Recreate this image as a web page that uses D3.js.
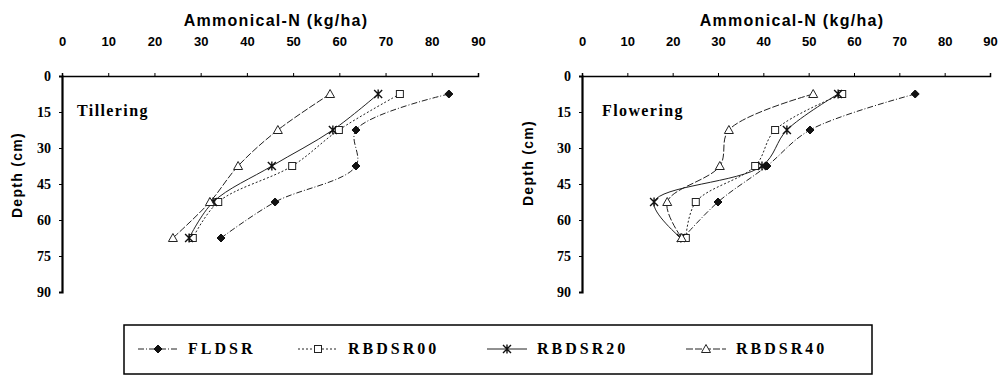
<!DOCTYPE html>
<html>
<head>
<meta charset="utf-8">
<script src="https://cdn.jsdelivr.net/npm/d3@7"></script>
<style>
    body { margin: 0; background: #fff; }
    svg { display: block; }
</style>
</head>
<body>
<svg id="chart" width="1000" height="375"></svg>
<script>
"use strict";

// depth of each sampling layer (cm)
var depths = [7.5, 22.5, 37.5, 52.5, 67.5];
var xTicks = [0, 10, 20, 30, 40, 50, 60, 70, 80, 90];
var yTicks = [0, 15, 30, 45, 60, 75, 90];
var seriesNames = ["FLDSR", "RBDSR00", "RBDSR20", "RBDSR40"];
var stages = ["Tillering", "Flowering"];

// Ammonical-N (kg/ha) per depth, tillering stage
var tillFLDSR = [83.7, 63.6, 63.6, 46.1, 34.4];
var tillRBDSR00 = [73.1, 59.9, 49.8, 33.8, 28.3];
var tillRBDSR20 = [68.4, 58.6, 45.4, 32.7, 27.5];
var tillRBDSR40 = [58.0, 46.7, 38.1, 32.0, 24.0];

// Ammonical-N (kg/ha) per depth, flowering stage
var flowFLDSR = [73.5, 50.3, 40.8, 30.0, 22.3];
var flowRBDSR00 = [57.4, 42.6, 38.2, 25.1, 22.9];
var flowRBDSR20 = [56.5, 45.2, 39.7, 15.9, 21.8];
var flowRBDSR40 = [51.0, 32.4, 30.4, 18.8, 22.0];

var stageData = [
    [tillFLDSR, tillRBDSR00, tillRBDSR20, tillRBDSR40],
    [flowFLDSR, flowRBDSR00, flowRBDSR20, flowRBDSR40]
];

// line style + marker for each series
var dashes = ["6,2,1,2", "2,2", null, "7,2"];
var markers = ["diamond", "square", "asterisk", "triangle"];

var svg = d3.select("#chart");
var sans = "'Liberation Sans', Arial, sans-serif";
var serif = "'Liberation Serif', 'Times New Roman', serif";

var panels = [
    { x0: 62, x1: 478, labelX: 17 },
    { x0: 582, x1: 990, labelX: 528 }
];

function draw_marker(g, type, cx, cy) {
    if (type == "diamond") {
        g.append("path")
            .attr("d", `M${cx},${cy - 4}L${cx + 4},${cy}L${cx},${cy + 4}L${cx - 4},${cy}Z`)
            .attr("fill", "#111").attr("stroke", "#111");
    } else if (type == "square") {
        g.append("rect")
            .attr("x", cx - 3.5).attr("y", cy - 3.5)
            .attr("width", 7).attr("height", 7)
            .attr("fill", "#fff").attr("stroke", "#222").attr("stroke-width", 1);
    } else if (type == "triangle") {
        g.append("path")
            .attr("d", `M${cx},${cy - 4.5}L${cx + 4.5},${cy + 3.5}L${cx - 4.5},${cy + 3.5}Z`)
            .attr("fill", "#fff").attr("stroke", "#222").attr("stroke-width", 1);
    } else {
        g.append("path")
            .attr("d", `M${cx - 4},${cy - 4}L${cx + 4},${cy + 4}M${cx + 4},${cy - 4}L${cx - 4},${cy + 4}M${cx},${cy - 4.5}L${cx},${cy + 4.5}`)
            .attr("fill", "none").attr("stroke", "#111").attr("stroke-width", 1.4);
    }
}

panels.forEach(function (p, k) {
    var x = d3.scaleLinear().domain([0, 90]).range([p.x0, p.x1]);
    var y = d3.scaleLinear().domain([0, 90]).range([76, 292]);
    var g = svg.append("g");

    // top axis
    var xAxis = g.append("g")
        .attr("transform", "translate(0,76)")
        .call(d3.axisTop(x).tickValues(xTicks).tickSize(3).tickPadding(27));
    xAxis.select(".domain").attr("stroke", "#000").attr("stroke-width", 1.5);
    xAxis.selectAll("text")
        .attr("font-family", sans).attr("font-weight", "bold")
        .attr("font-size", 13).attr("fill", "#000");

    // left axis
    var yAxis = g.append("g")
        .attr("transform", `translate(${p.x0},0)`)
        .call(d3.axisLeft(y).tickValues(yTicks).tickSize(3).tickPadding(8));
    yAxis.select(".domain").attr("stroke", "#000").attr("stroke-width", 2.2);
    yAxis.selectAll("text")
        .attr("font-family", serif).attr("font-weight", "bold")
        .attr("font-size", 14).attr("fill", "#000");

    // axis titles
    g.append("text")
        .attr("x", (p.x0 + p.x1) / 2 + 6).attr("y", 26)
        .attr("text-anchor", "middle")
        .attr("font-family", sans).attr("font-weight", "bold")
        .attr("font-size", 16).attr("letter-spacing", 1.3)
        .text("Ammonical-N (kg/ha)");

    g.append("text")
        .attr("transform", `translate(${p.labelX},${k == 0 ? 175 : 163}) rotate(-90)`)
        .attr("text-anchor", "middle").attr("dy", "0.35em")
        .attr("font-family", sans).attr("font-weight", "bold")
        .attr("font-size", 14).attr("letter-spacing", 1.3)
        .text("Depth (cm)");

    // stage label
    g.append("text")
        .attr("x", p.x0 + (k == 0 ? 15 : 20)).attr("y", 116)
        .attr("font-family", serif).attr("font-weight", "bold")
        .attr("font-size", 16).attr("letter-spacing", 1.4)
        .text(stages[k]);

    // series lines
    var line = d3.line()
        .x(function (d) { return x(d[0]); })
        .y(function (d) { return y(d[1]); })
        .curve(d3.curveCatmullRom.alpha(0.5));

    stageData[k].forEach(function (vals, s) {
        var pts = vals.map(function (v, i) { return [v, depths[i]]; });
        g.append("path")
            .datum(pts)
            .attr("fill", "none")
            .attr("stroke", "#222")
            .attr("stroke-width", 1)
            .attr("stroke-dasharray", dashes[s])
            .attr("d", line);
    });
    stageData[k].forEach(function (vals, s) {
        vals.forEach(function (v, i) {
            draw_marker(g, markers[s], x(v), y(depths[i]));
        });
    });
});

// legend
var leg = svg.append("g");
leg.append("rect")
    .attr("x", 124).attr("y", 325)
    .attr("width", 748).attr("height", 49)
    .attr("fill", "none").attr("stroke", "#000").attr("stroke-width", 1.5);

var legendStart = [138, 298, 487, 686];
seriesNames.forEach(function (name, s) {
    var lx = legendStart[s];
    var ly = 349;
    leg.append("line")
        .attr("x1", lx).attr("x2", lx + 40)
        .attr("y1", ly).attr("y2", ly)
        .attr("stroke", "#222").attr("stroke-width", 1)
        .attr("stroke-dasharray", dashes[s]);
    draw_marker(leg, markers[s], lx + 20, ly);
    leg.append("text")
        .attr("x", lx + 50).attr("y", ly + 5)
        .attr("font-family", serif).attr("font-weight", "bold")
        .attr("font-size", 16).attr("letter-spacing", 3)
        .text(name);
});
</script>
</body>
</html>
